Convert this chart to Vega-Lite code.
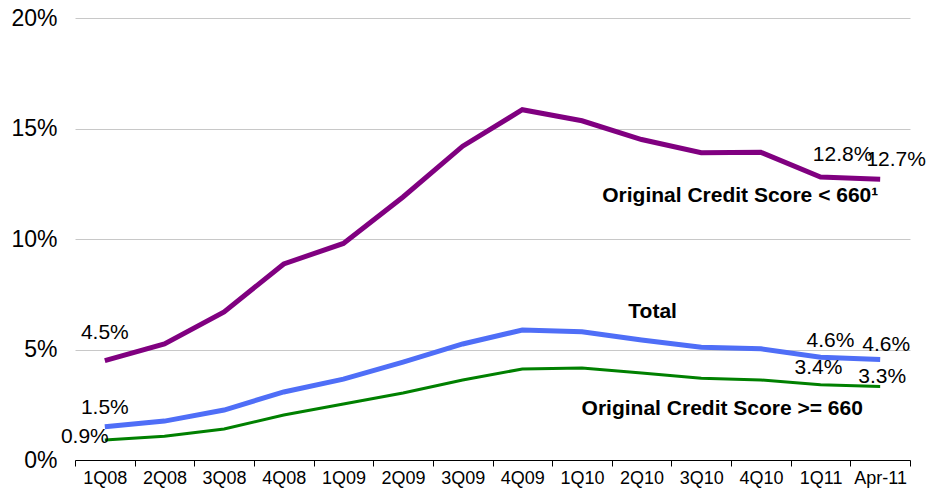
{
"$schema":"https://vega.github.io/schema/vega-lite/v6.json",
"width":835,"height":442,"autosize":"none",
"padding":{"left":75,"top":18,"right":18,"bottom":35},
"config":{"view":{"stroke":null},"font":"Liberation Sans"},
"datasets":{
"series":[
{"q":"1Q08","s":"low","v":4.5},{"q":"2Q08","s":"low","v":5.25},{"q":"3Q08","s":"low","v":6.7},{"q":"4Q08","s":"low","v":8.87},{"q":"1Q09","s":"low","v":9.8},{"q":"2Q09","s":"low","v":11.9},{"q":"3Q09","s":"low","v":14.2},{"q":"4Q09","s":"low","v":15.85},{"q":"1Q10","s":"low","v":15.35},{"q":"2Q10","s":"low","v":14.5},{"q":"3Q10","s":"low","v":13.9},{"q":"4Q10","s":"low","v":13.92},{"q":"1Q11","s":"low","v":12.8},{"q":"Apr-11","s":"low","v":12.7},
{"q":"1Q08","s":"total","v":1.5},{"q":"2Q08","s":"total","v":1.76},{"q":"3Q08","s":"total","v":2.26},{"q":"4Q08","s":"total","v":3.08},{"q":"1Q09","s":"total","v":3.66},{"q":"2Q09","s":"total","v":4.43},{"q":"3Q09","s":"total","v":5.25},{"q":"4Q09","s":"total","v":5.88},{"q":"1Q10","s":"total","v":5.8},{"q":"2Q10","s":"total","v":5.43},{"q":"3Q10","s":"total","v":5.1},{"q":"4Q10","s":"total","v":5.03},{"q":"1Q11","s":"total","v":4.65},{"q":"Apr-11","s":"total","v":4.55},
{"q":"1Q08","s":"high","v":0.9},{"q":"2Q08","s":"high","v":1.08},{"q":"3Q08","s":"high","v":1.4},{"q":"4Q08","s":"high","v":2.04},{"q":"1Q09","s":"high","v":2.53},{"q":"2Q09","s":"high","v":3.03},{"q":"3Q09","s":"high","v":3.62},{"q":"4Q09","s":"high","v":4.12},{"q":"1Q10","s":"high","v":4.16},{"q":"2Q10","s":"high","v":3.94},{"q":"3Q10","s":"high","v":3.7},{"q":"4Q10","s":"high","v":3.62},{"q":"1Q11","s":"high","v":3.4},{"q":"Apr-11","s":"high","v":3.33}
],
"labels":[
{"id":"a","q":"1Q08","v":4.5,"t":"4.5%"},
{"id":"b","q":"1Q08","v":1.5,"t":"1.5%"},
{"id":"c","q":"1Q08","v":0.9,"t":"0.9%"},
{"id":"d","q":"1Q11","v":12.8,"t":"12.8%"},
{"id":"e","q":"Apr-11","v":12.7,"t":"12.7%"},
{"id":"f","q":"1Q11","v":4.6,"t":"4.6%"},
{"id":"g","q":"Apr-11","v":4.6,"t":"4.6%"},
{"id":"h","q":"1Q11","v":3.4,"t":"3.4%"},
{"id":"i","q":"Apr-11","v":3.3,"t":"3.3%"},
{"id":"j","q":"3Q10","v":13.9,"t":"Original Credit Score < 660¹"},
{"id":"k","q":"2Q10","v":5.43,"t":"Total"},
{"id":"l","q":"3Q10","v":3.7,"t":"Original Credit Score >= 660"}
]},
"encoding":{
"x":{"field":"q","type":"ordinal","sort":null,"bandPosition":0.5,"scale":{"type":"band","paddingInner":0,"paddingOuter":0},
"axis":{"title":null,"labelFontSize":18,"labelColor":"#000","labelAngle":0,"tickBand":"extent","domainColor":"#000","tickColor":"#000","tickSize":6,"labelPadding":3}},
"y":{"field":"v","type":"quantitative","scale":{"domain":[0,20]},
"axis":{"title":null,"values":[0,5,10,15,20],"labelExpr":"datum.value+'%'","labelFontSize":23,"labelColor":"#000","domain":false,"ticks":false,"gridColor":"#c8c8c8","labelPadding":18}}
},
"layer":[
{"data":{"name":"series"},"mark":{"type":"line","strokeWidth":3},"transform":[{"filter":"datum.s=='high'"}],"encoding":{"color":{"value":"#008000"}}},
{"data":{"name":"series"},"mark":{"type":"line","strokeWidth":5},"transform":[{"filter":"datum.s=='total'"}],"encoding":{"color":{"value":"#4F6EF7"}}},
{"data":{"name":"series"},"mark":{"type":"line","strokeWidth":5},"transform":[{"filter":"datum.s=='low'"}],"encoding":{"color":{"value":"#800080"}}},
{"data":{"name":"labels"},"transform":[{"filter":"datum.id=='a'"}],"mark":{"type":"text","fontSize":21,"dy":-28},"encoding":{"text":{"field":"t"}}},
{"data":{"name":"labels"},"transform":[{"filter":"datum.id=='b'"}],"mark":{"type":"text","fontSize":21,"dy":-19},"encoding":{"text":{"field":"t"}}},
{"data":{"name":"labels"},"transform":[{"filter":"datum.id=='c'"}],"mark":{"type":"text","fontSize":21,"dx":-20,"dy":-3},"encoding":{"text":{"field":"t"}}},
{"data":{"name":"labels"},"transform":[{"filter":"datum.id=='d'"}],"mark":{"type":"text","fontSize":21,"dx":22,"dy":-22},"encoding":{"text":{"field":"t"}}},
{"data":{"name":"labels"},"transform":[{"filter":"datum.id=='e'"}],"mark":{"type":"text","fontSize":21,"dx":16,"dy":-19},"encoding":{"text":{"field":"t"}}},
{"data":{"name":"labels"},"transform":[{"filter":"datum.id=='f'"}],"mark":{"type":"text","fontSize":21,"dx":10,"dy":-17},"encoding":{"text":{"field":"t"}}},
{"data":{"name":"labels"},"transform":[{"filter":"datum.id=='g'"}],"mark":{"type":"text","fontSize":21,"dx":6,"dy":-13},"encoding":{"text":{"field":"t"}}},
{"data":{"name":"labels"},"transform":[{"filter":"datum.id=='h'"}],"mark":{"type":"text","fontSize":21,"dx":-2,"dy":-17},"encoding":{"text":{"field":"t"}}},
{"data":{"name":"labels"},"transform":[{"filter":"datum.id=='i'"}],"mark":{"type":"text","fontSize":21,"dx":2,"dy":-10},"encoding":{"text":{"field":"t"}}},
{"data":{"name":"labels"},"transform":[{"filter":"datum.id=='j'"}],"mark":{"type":"text","fontSize":21,"fontWeight":"bold","dx":39,"dy":43},"encoding":{"text":{"field":"t"}}},
{"data":{"name":"labels"},"transform":[{"filter":"datum.id=='k'"}],"mark":{"type":"text","fontSize":21,"fontWeight":"bold","dx":11,"dy":-28},"encoding":{"text":{"field":"t"}}},
{"data":{"name":"labels"},"transform":[{"filter":"datum.id=='l'"}],"mark":{"type":"text","fontSize":21,"fontWeight":"bold","dx":21,"dy":31},"encoding":{"text":{"field":"t"}}}
]
}
